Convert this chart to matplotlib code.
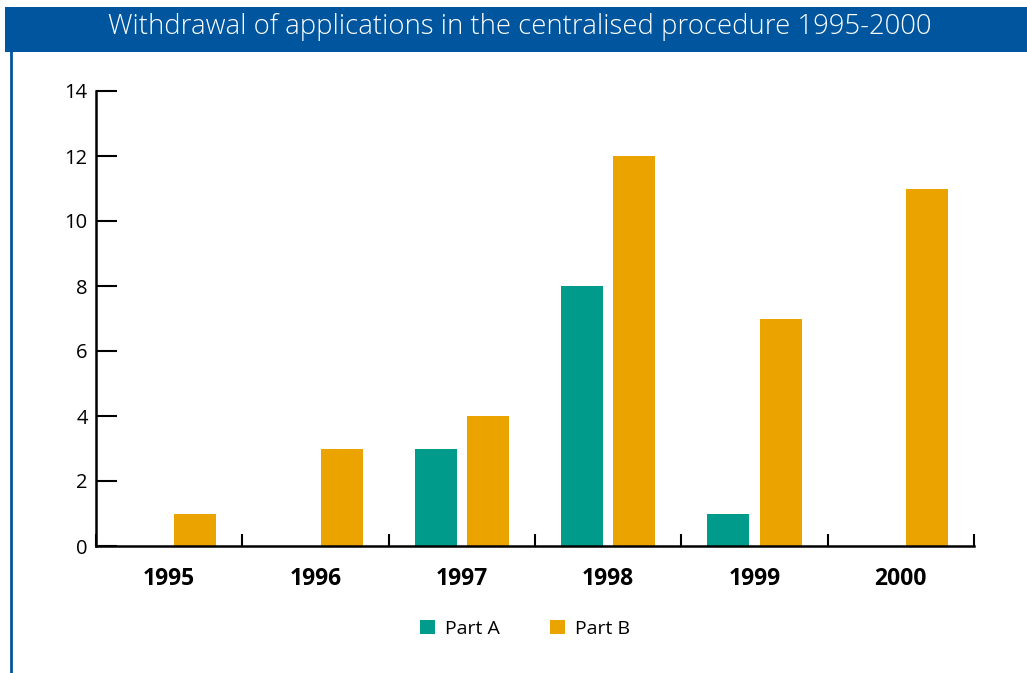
import numpy as np
import matplotlib
matplotlib.use('Agg')
import matplotlib.pyplot as plt
from matplotlib.patches import Rectangle
from matplotlib.lines import Line2D

# data
years = ['1995', '1996', '1997', '1998', '1999', '2000']
part_a = [0, 0, 3, 8, 1, 0]
part_b = [1, 3, 4, 12, 7, 11]
title = 'Withdrawal of applications in the centralised procedure 1995-2000'

teal = '#009B8A'
orange = '#EBA300'
blue = '#00559F'

plt.rcParams['font.family'] = ['Open Sans', 'DejaVu Sans']

W, H = 1027, 673
fig = plt.figure(figsize=(W / 100, H / 100), dpi=100)

# title bar and left border
fig.patches.append(Rectangle((5 / W, 1 - 52 / H), 1, 45 / H, transform=fig.transFigure,
                             facecolor=blue, edgecolor='none'))
fig.lines.append(Line2D([11 / W, 11 / W], [0, 1 - 52 / H], transform=fig.transFigure,
                        color=blue, lw=2))
fig.text(520 / W, 1 - 27 / H, title, color='white', fontsize=19.8, fontweight='light',
         ha='center', va='center')

ax = fig.add_axes([96 / W, 127 / H, (974 - 96) / W, (546 - 91) / H])
x = np.arange(len(years))
w = 0.287
ax.bar(x - 0.178, part_a, w, color=teal, label='Part A')
ax.bar(x + 0.178, part_b, w, color=orange, label='Part B')

ax.set_xlim(-0.5, len(years) - 0.5)
ax.set_ylim(0, 14)
ax.set_yticks(range(0, 15, 2))
ax.set_xticks(np.arange(-0.5, len(years), 1))
ax.set_xticklabels([])
ax.set_xticks(x, minor=True)
ax.set_xticklabels(years, minor=True, fontsize=16.5, fontweight='bold')
ax.tick_params(axis='x', which='major', direction='in', length=9, width=1.5)
ax.tick_params(axis='x', which='minor', length=0, pad=15)
ax.tick_params(axis='y', direction='in', length=15, width=1.5, labelsize=14.5, pad=6)
for s in ['top', 'right']:
    ax.spines[s].set_visible(False)
for s in ['left', 'bottom']:
    ax.spines[s].set_linewidth(1.8)

fig.legend(loc='center', bbox_to_anchor=(525 / W, 1 - 629 / H), ncol=2, frameon=False,
           handlelength=0.75, handleheight=0.75, handletextpad=0.5, columnspacing=2.6,
           fontsize=14)

fig.savefig('out.png', dpi=100)
